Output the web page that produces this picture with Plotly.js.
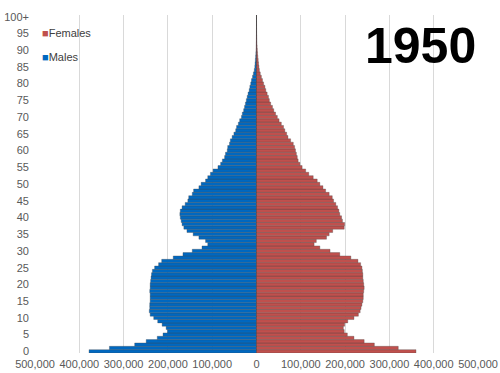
<!DOCTYPE html>
<html>
<head>
<meta charset="utf-8">
<script src="https://cdn.plot.ly/plotly-3.0.1.min.js"></script>
<style>
  html, body { margin: 0; padding: 0; background: #fff; }
  #chart { width: 500px; height: 373px; outline: 1px solid #d9d9d9; outline-offset: -1px; }
</style>
</head>
<body>
<div id="chart"></div>
<script>
// Ages 0..100 (100 = "100+")
const ages = Array.from({length: 101}, (_, i) => i);

const males = [
  378000, 332000, 275000, 249000, 224000, 211000, 201000, 204000, 213000, 223000,
  232000, 240000, 242000, 241000, 241000, 240000, 240000, 240000, 241000, 240000,
  240000, 239000, 238000, 237000, 235000, 230000, 221000, 214000, 188000, 166000,
  145000, 123000, 110000, 115000, 130000, 143000, 157000, 164000, 168000, 170000,
  172000, 173000, 172000, 168000, 161000, 155000, 153000, 145000, 142000, 130000,
  125000, 115000, 110000, 104000, 98000, 87000, 81000, 77000, 72000, 70000,
  66000, 65000, 61000, 59000, 55000, 51000, 47000, 45000, 41000, 38000,
  34000, 32000, 29000, 27000, 25000, 23000, 21000, 19000, 16500, 15000,
  13000, 11300, 9000, 7000, 5000, 3800, 3200, 2600, 2000, 1500,
  1100, 800, 600, 400, 300, 200, 150, 100, 70, 50,
  50
];

const females = [
  360000, 320000, 266000, 243000, 220000, 205000, 198000, 196000, 199000, 206000,
  220000, 230000, 234000, 236000, 238000, 240000, 241000, 241000, 242000, 243000,
  242000, 241000, 240000, 240000, 239000, 238000, 235000, 229000, 213000, 188000,
  166000, 143000, 130000, 135000, 158000, 164000, 172000, 198000, 199000, 194000,
  192000, 188000, 186000, 183000, 179000, 174000, 171000, 164000, 156000, 150000,
  143000, 137000, 128000, 118000, 111000, 103000, 98000, 94000, 92000, 90000,
  88000, 86000, 83000, 77000, 71000, 68000, 64000, 61000, 56000, 51000,
  47000, 43000, 39000, 36000, 32000, 29000, 27000, 24000, 21000, 19000,
  16000, 13500, 11000, 8500, 6500, 5500, 4600, 3800, 3000, 2400,
  1900, 1400, 1000, 800, 600, 400, 300, 200, 150, 100,
  100
];

const ageTickVals = [0,5,10,15,20,25,30,35,40,45,50,55,60,65,70,75,80,85,90,95,100];
const ageTickText = ['0','5','10','15','20','25','30','35','40','45','50','55','60','65','70','75','80','85','90','95','100+'];
const popTickVals = [-500000,-400000,-300000,-200000,-100000,0,100000,200000,300000,400000,500000];
const popTickText = ['500,000','400,000','300,000','200,000','100,000','0','100,000','200,000','300,000','400,000','500,000'];
const yearLabel = '1950';
const seriesNames = ['Females', 'Males'];

const maleColor = '#0068C0';
const femaleColor = '#C0504D';
const edge = {color: 'rgba(70,70,70,0.55)', width: 0.6};

const traces = [
  {
    type: 'bar', orientation: 'h', name: seriesNames[1],
    y: ages, x: males.map(v => -v),
    marker: {color: maleColor, line: edge},
    showlegend: false, hoverinfo: 'skip'
  },
  {
    type: 'bar', orientation: 'h', name: seriesNames[0],
    y: ages, x: females,
    marker: {color: femaleColor, line: edge},
    showlegend: false, hoverinfo: 'skip'
  }
];

const font = {family: 'Liberation Sans, Arial, sans-serif', size: 11, color: '#595959'};

const layout = {
  width: 500, height: 373,
  margin: {l: 35, r: 22, t: 15, b: 20, pad: 0},
  paper_bgcolor: '#ffffff', plot_bgcolor: '#ffffff',
  barmode: 'relative', bargap: 0,
  font: font,
  showlegend: false,
  xaxis: {
    range: [-500000, 500000],
    tickvals: popTickVals, ticktext: popTickText,
    showgrid: true, gridcolor: '#d9d9d9', gridwidth: 1,
    zeroline: true, zerolinecolor: '#6b6b6b', zerolinewidth: 1,
    showline: false, ticks: '', tickfont: font, fixedrange: true,
    ticklabelstandoff: 3
  },
  yaxis: {
    range: [-0.5, 100.5],
    tickvals: ageTickVals, ticktext: ageTickText,
    showgrid: false, zeroline: false, showline: false, ticks: '',
    tickfont: font, fixedrange: true,
    ticklabelstandoff: 5
  },
  annotations: [
    {
      xref: 'paper', yref: 'paper', x: 0.011, y: 0.9475, xanchor: 'left', yanchor: 'middle',
      showarrow: false, align: 'left',
      text: "<span style='color:" + femaleColor + "'>■</span>" + seriesNames[0],
      font: {family: 'Liberation Sans, Arial, sans-serif', size: 11, color: '#404040'}
    },
    {
      xref: 'paper', yref: 'paper', x: 0.011, y: 0.876, xanchor: 'left', yanchor: 'middle',
      showarrow: false, align: 'left',
      text: "<span style='color:" + maleColor + "'>■</span>" + seriesNames[1],
      font: {family: 'Liberation Sans, Arial, sans-serif', size: 11, color: '#404040'}
    },
    {
      xref: 'paper', yref: 'paper', x: 0.8695, y: 0.908, xanchor: 'center', yanchor: 'middle',
      showarrow: false, text: yearLabel,
      font: {family: 'Liberation Sans, Arial, sans-serif', size: 50, color: '#000000', weight: 'bold'}
    }
  ]
};

Plotly.newPlot('chart', traces, layout, {displayModeBar: false, staticPlot: true});
</script>
</body>
</html>
